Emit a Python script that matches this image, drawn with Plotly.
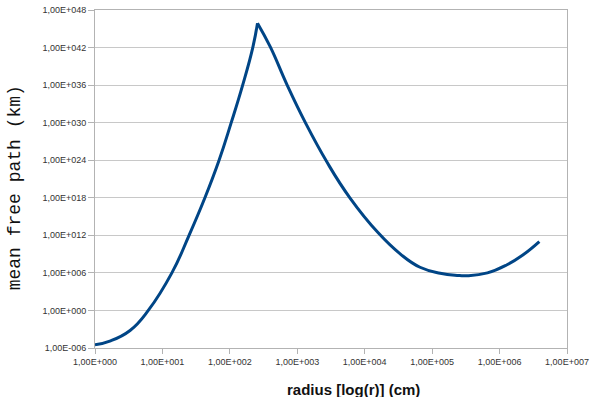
import plotly.graph_objects as go

# log10 of radius (cm) and log10 of mean free path (km)
log_radius = [0.00, 0.22, 0.52, 0.79, 1.14, 1.395, 1.63, 1.84, 2.02, 2.19,
              2.34, 2.41,
              2.60, 2.85, 3.12, 3.44, 3.78, 4.20, 4.53, 4.82, 5.12, 5.37,
              5.52, 5.82, 6.11, 6.35, 6.59]
log_mfp = [-5.5, -4.9, -3.2, 0.0, 6.0, 12.0, 18.0, 24.0, 30.0, 36.0,
           42.0, 45.9,
           42.1, 36.0, 30.0, 23.7, 18.0, 12.4, 9.0, 6.9, 5.95, 5.6,
           5.55, 6.0, 7.3, 8.9, 11.0]

radius = [10 ** v for v in log_radius]
mfp = [10 ** v for v in log_mfp]

x_exps = list(range(0, 8))
y_exps = list(range(-6, 49, 6))


def sci_label(e):
    sign = "+" if e >= 0 else "-"
    return "1,00E%s%03d" % (sign, abs(e))


x_tickvals = [10 ** e for e in x_exps]
x_ticktext = [sci_label(e) for e in x_exps]
y_tickvals = [10.0 ** e for e in y_exps]
y_ticktext = [sci_label(e) for e in y_exps]

# the curve has a sharp cusp at its maximum: draw each side as its own
# smooth branch so the spline does not round off the peak
peak = log_mfp.index(max(log_mfp))
branches = [(0, peak + 1), (peak, len(radius))]

fig = go.Figure()
for lo, hi in branches:
    fig.add_trace(go.Scatter(
        x=radius[lo:hi], y=mfp[lo:hi], mode="lines",
        line=dict(color="#004586", width=3, shape="spline", smoothing=1.3),
        hoverinfo="skip", showlegend=False,
    ))

axis_grey = "#b3b3b3"
fig.update_layout(
    width=590, height=397,
    margin=dict(l=95, r=23, t=10, b=49, autoexpand=False),
    paper_bgcolor="white", plot_bgcolor="white",
    font=dict(family="Liberation Sans, Arial, sans-serif", size=9, color="#333333"),
    xaxis=dict(
        type="log", range=[0, 7], automargin=False,
        tickvals=x_tickvals, ticktext=x_ticktext,
        showgrid=False, zeroline=False,
        showline=True, linecolor=axis_grey, linewidth=1, mirror=True,
        ticks="outside", ticklen=5, tickcolor=axis_grey,
    ),
    yaxis=dict(
        type="log", range=[-6, 48], automargin=False,
        tickvals=y_tickvals, ticktext=y_ticktext,
        showgrid=True, gridcolor="#c8c8c8", gridwidth=1, zeroline=False,
        showline=True, linecolor=axis_grey, linewidth=1, mirror=True,
        ticks="outside", ticklen=6, tickcolor=axis_grey,
    ),
    annotations=[
        dict(text="<b>radius [log(r)] (cm)</b>", xref="paper", yref="paper",
             x=0.547, y=-0.124, xanchor="center", yanchor="middle",
             showarrow=False,
             font=dict(family="Liberation Sans, Arial, sans-serif", size=15, color="#111111")),
        dict(text="mean free path (km)", xref="paper", yref="paper",
             x=-0.169, y=0.473, xanchor="center", yanchor="middle",
             textangle=-90, showarrow=False,
             font=dict(family="Liberation Mono, Courier New, monospace", size=18, color="#111111")),
    ],
)

fig.write_html("out.html")
